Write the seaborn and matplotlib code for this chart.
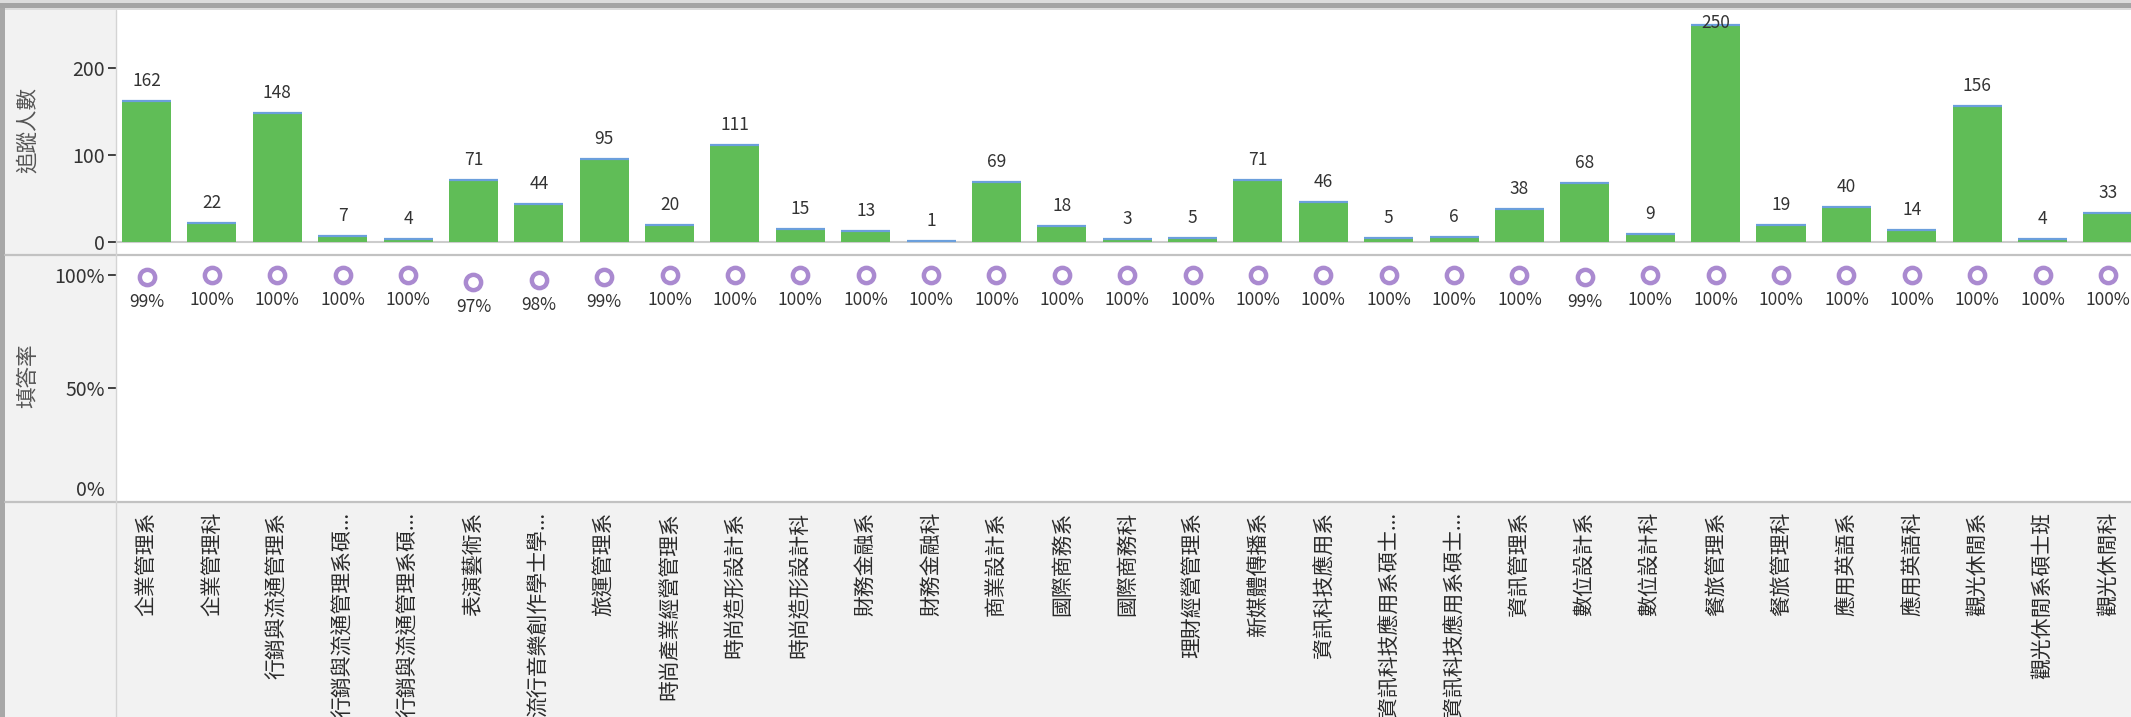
import numpy as np
import pandas as pd
import matplotlib
matplotlib.use("Agg")
import matplotlib.pyplot as plt
import seaborn as sns
from matplotlib.lines import Line2D
from matplotlib.patches import Rectangle

# ---------------- data ----------------
categories = [
    "企業管理系", "企業管理科", "行銷與流通管理系", "行銷與流通管理系碩士班",
    "行銷與流通管理系碩士在職專班", "表演藝術系", "流行音樂創作學士學位學程",
    "旅運管理系", "時尚產業經營管理系", "時尚造形設計系", "時尚造形設計科",
    "財務金融系", "財務金融科", "商業設計系", "國際商務系", "國際商務科",
    "理財經營管理系", "新媒體傳播系", "資訊科技應用系", "資訊科技應用系碩士班",
    "資訊科技應用系碩士在職專班", "資訊管理系", "數位設計系", "數位設計科",
    "餐旅管理系", "餐旅管理科", "應用英語系", "應用英語科", "觀光休閒系",
    "觀光休閒系碩士班", "觀光休閒科",
]
tick_labels = [
    "企業管理系", "企業管理科", "行銷與流通管理系", "行銷與流通管理系碩...",
    "行銷與流通管理系碩...", "表演藝術系", "流行音樂創作學士學...",
    "旅運管理系", "時尚產業經營管理系", "時尚造形設計系", "時尚造形設計科",
    "財務金融系", "財務金融科", "商業設計系", "國際商務系", "國際商務科",
    "理財經營管理系", "新媒體傳播系", "資訊科技應用系", "資訊科技應用系碩士...",
    "資訊科技應用系碩士...", "資訊管理系", "數位設計系", "數位設計科",
    "餐旅管理系", "餐旅管理科", "應用英語系", "應用英語科", "觀光休閒系",
    "觀光休閒系碩士班", "觀光休閒科",
]
counts = [162, 22, 148, 7, 4, 71, 44, 95, 20, 111, 15, 13, 1, 69, 18, 3,
          5, 71, 46, 5, 6, 38, 68, 9, 250, 19, 40, 14, 156, 4, 33]
rates = [0.99, 1.00, 1.00, 1.00, 1.00, 0.97, 0.98, 0.99, 1.00, 1.00, 1.00,
         1.00, 1.00, 1.00, 1.00, 1.00, 1.00, 1.00, 1.00, 1.00, 1.00, 1.00,
         0.99, 1.00, 1.00, 1.00, 1.00, 1.00, 1.00, 1.00, 1.00]
count_title = "追蹤人數"
rate_title = "填答率"
count_ticks = [0, 100, 200]
count_tick_labels = ["0", "100", "200"]
rate_ticks = [0, 0.5, 1.0]
rate_tick_labels = ["0%", "50%", "100%"]

# ---------------- style ----------------
sns.set_style("white")
plt.rcParams["font.family"] = ["Noto Sans CJK TC", "DejaVu Sans"]
TXT = "#333333"
GREEN = "#60bd57"
BLUE = "#6b9fdc"
PURPLE = "#aa8ad0"
BG = "#f2f2f2"

W, H = 2131, 717
fig = plt.figure(figsize=(W / 100, H / 100), dpi=100, facecolor=BG)


def rect(l, t, r, b):
    return [l / W, 1 - b / H, (r - l) / W, (b - t) / H]


ax1 = fig.add_axes(rect(116, 10, W, 254))
ax2 = fig.add_axes(rect(116, 256, W, 501))

df = pd.DataFrame({"dept": categories, "count": counts, "rate": rates})
n = len(categories)

# ---------------- top: bars ----------------
ax1.axhline(0, color="#cccccc", lw=1.5, zorder=0.5)
sns.barplot(data=df, x="dept", y="count", order=categories, color=GREEN,
            saturation=1, width=0.75, ax=ax1, linewidth=0, zorder=2)
for p in list(ax1.patches):
    x0, w, h = p.get_x(), p.get_width(), p.get_height()
    ax1.plot([x0, x0 + w], [h, h], color=BLUE, lw=1.6,
             solid_capstyle="butt", zorder=3)

y1_lo, y1_hi = -13.8, 266.7
ax1.set_ylim(y1_lo, y1_hi)
ppu = 244 / (y1_hi - y1_lo)  # pixels per unit
for i, v in enumerate(counts):
    ly = min(v + 20 / ppu, y1_hi - 13 / ppu)
    ax1.text(i, ly, str(v), ha="center", va="center", fontsize=12.5,
             color=TXT, zorder=4)

# ---------------- bottom: response rate ----------------
sns.pointplot(data=df, x="dept", y="rate", order=categories, color=PURPLE,
              markers="o", linestyles="none", errorbar=None, ax=ax2,
              markersize=11, markeredgewidth=3.2)
for ln in ax2.lines:
    ln.set_markerfacecolor("none")
    ln.set_markeredgecolor(PURPLE)
    ln.set_linestyle("none")
for i, r in enumerate(rates):
    ax2.annotate(f"{r:.0%}", xy=(i, r), xytext=(0, -25),
                 textcoords="offset pixels", ha="center", va="center",
                 fontsize=12.5, color=TXT)
ax2.set_ylim(0, 1.084)

# ---------------- axes cosmetics ----------------
xl = (-(146.5 - 116) / 65.38, (2131 - 146.5) / 65.38)
for ax in (ax1, ax2):
    ax.set_xlim(*xl)
    ax.set_facecolor("white")
    for s in ax.spines.values():
        s.set_visible(False)
    ax.set_xlabel("")
    ax.set_ylabel("")
    ax.tick_params(axis="y", left=True, length=6, width=1.3, color=TXT,
                   labelsize=14, labelcolor=TXT, pad=2)

ax1.set_xticks([])
ax1.set_yticks(count_ticks)
ax1.set_yticklabels(count_tick_labels)

ax2.set_yticks(rate_ticks)
ax2.set_yticklabels(rate_tick_labels)
ax2.yaxis.get_major_ticks()[0].tick1line.set_visible(False)
ax2.get_yticklabels()[0].set_va("bottom")

ax2.set_xticks(range(n))
ax2.set_xticklabels(tick_labels, rotation=90, fontsize=15, color="#2a2a2a",
                    ha="center", va="top")
ax2.tick_params(axis="x", bottom=False, length=0, pad=8)

# axis titles in the left panel
fig.text(28 / W, 1 - 130 / H, count_title, rotation=90, ha="center",
         va="center", fontsize=15.5, color="#555555")
fig.text(28 / W, 1 - 376 / H, rate_title, rotation=90, ha="center",
         va="center", fontsize=15.5, color="#555555")

# ---------------- frame decorations ----------------
fig.add_artist(Rectangle((0, 1 - 10 / H), 1, 10 / H, transform=fig.transFigure,
                         facecolor="#dcdcdc", edgecolor="none", zorder=5))
fig.add_artist(Rectangle((0, 1 - 8 / H), 1, 5 / H, transform=fig.transFigure,
                         facecolor="#a4a4a4", edgecolor="none", zorder=6))
fig.add_artist(Rectangle((0, 0), 5 / W, 1 - 8 / H, transform=fig.transFigure,
                         facecolor="#a8a8a8", edgecolor="none", zorder=6))
for yp in (255, 502):
    fig.add_artist(Line2D([5 / W, 1], [1 - yp / H] * 2,
                          transform=fig.transFigure, color="#c2c2c2",
                          lw=1.6, zorder=7))
fig.add_artist(Line2D([115.5 / W] * 2, [0, 1 - 10 / H],
                      transform=fig.transFigure, color="#d4d4d4", lw=1,
                      zorder=7))

fig.savefig("out.png", dpi=100, facecolor=BG)
